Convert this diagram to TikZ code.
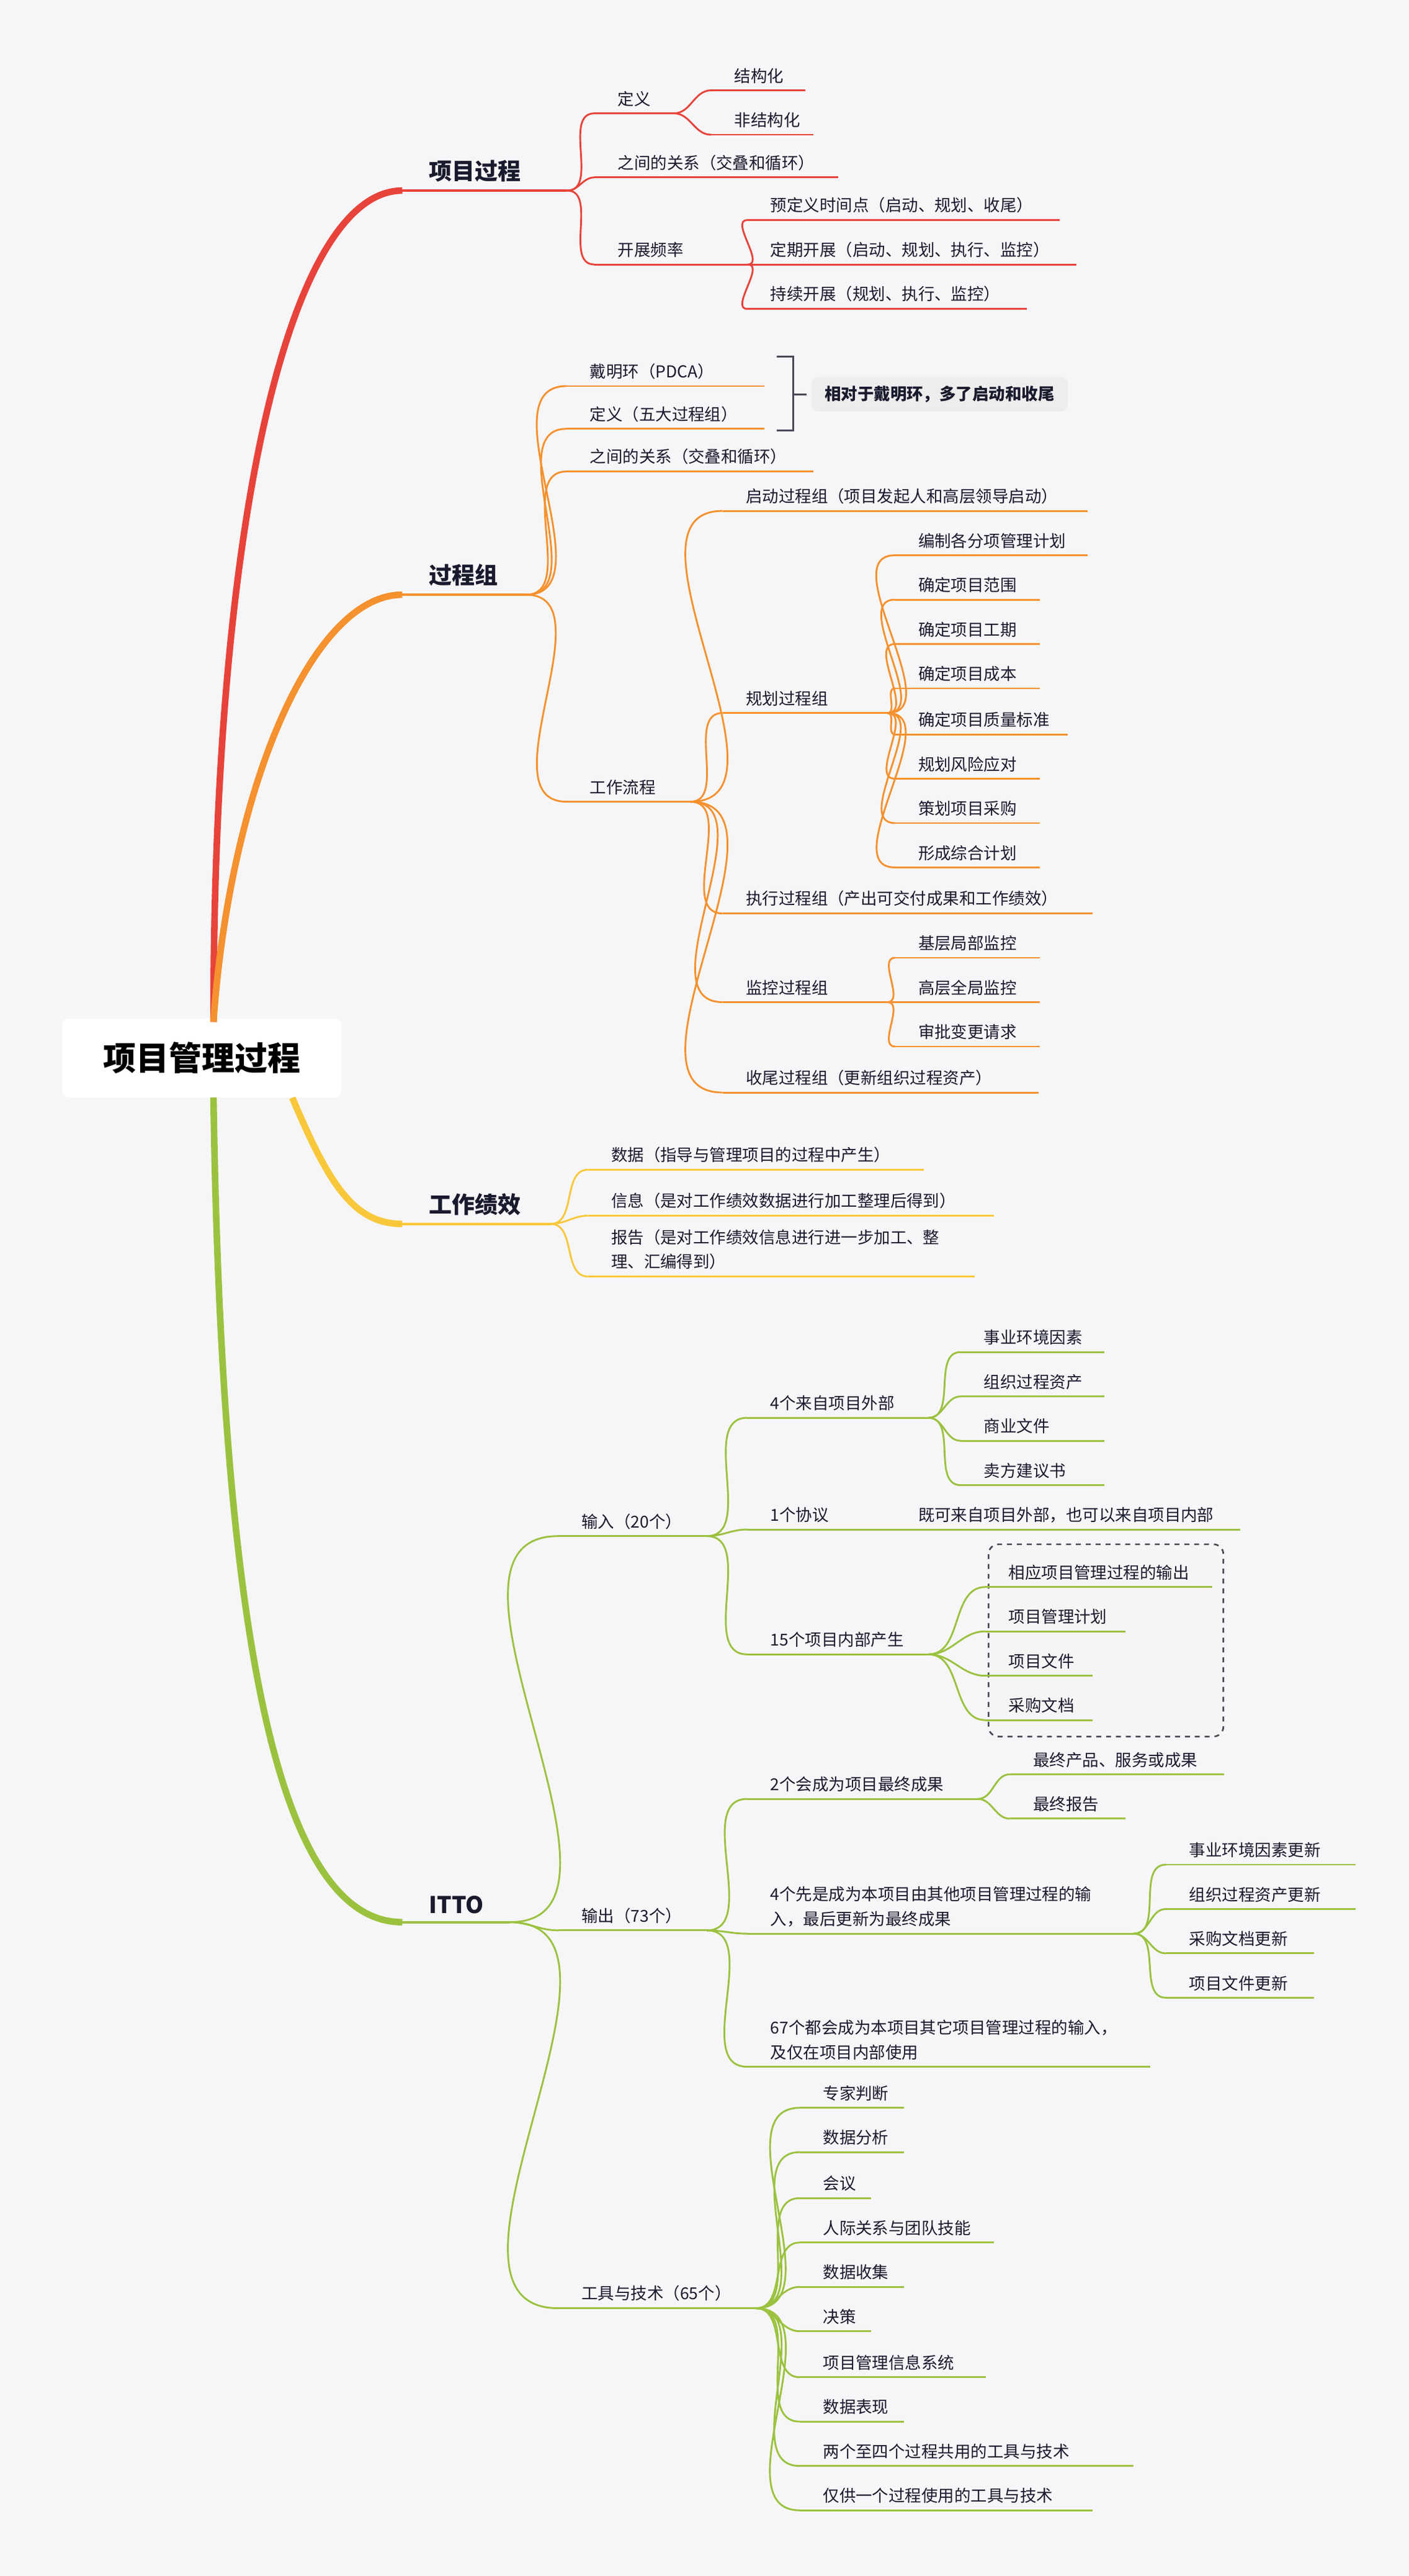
\documentclass[tikz,border=0pt]{standalone}
\usepackage{fontspec}
\setmainfont{Noto Sans CJK SC}
\definecolor{bg}{HTML}{F6F6F8}
\definecolor{cr}{HTML}{E8433A}
\definecolor{co}{HTML}{F5912E}
\definecolor{cy}{HTML}{F8C83A}
\definecolor{cg}{HTML}{9BC23F}
\definecolor{tx}{HTML}{1A1A2E}
\tikzset{
 lf/.style={anchor=south west,inner xsep=14pt,inner ysep=4pt,align=left,text=tx,font=\fontsize{10}{15}\selectfont},
 mlbl/.style={anchor=south west,inner xsep=16pt,inner ysep=5pt,text=tx,font=\fontsize{14}{17}\selectfont\bfseries},
 ul/.style={line width=1.1pt,draw=#1},
 cn/.style={line width=1.1pt,draw=#1},
 mb/.style={line width=4pt,draw=#1}
}
\newcommand\lf[6]{\pgfmathsetmacro\tw{#4-#2-28}\node[lf,text width=\tw pt] (#1) at (#2,#3) {#5};\draw[ul=#6] (#1.south west)--(#1.south east);}
\newcommand\ml[6]{\pgfmathsetmacro\tw{#4-#2-32}\node[mlbl,text width=\tw pt] (#1) at (#2,#3) {#5};\draw[ul=#6,line width=1.5pt] (#1.south west)--(#1.south east);}
\newcommand\cn[3]{\draw[cn=#3] (#1.south east) to[out=0,in=180] (#2.south west);}
\begin{document}
\begin{tikzpicture}[x=1pt,y=-1pt]
\fill[bg] (0,0) rectangle (858,1568);
\useasboundingbox (0,0) rectangle (858,1568);
% root
\node[fill=white,rounded corners=4pt,minimum width=170pt,minimum height=48pt,text=black,font=\fontsize{20}{24}\selectfont\bfseries] (root) at (123,644) {项目管理过程};
\coordinate (ru) at (130,622);
\coordinate (rd) at (130,668);
% main labels
\ml{m1}{245}{116}{345}{项目过程}{cr}
\ml{m2}{245}{362}{320}{过程组}{co}
\ml{m3}{245}{745}{335}{工作绩效}{cy}
\ml{m4}{245}{1170}{310}{ITTO}{cg}
\draw[mb=cr] (ru) .. controls (130,300) and (180,116) .. (m1.south west);
\draw[mb=co] (ru) .. controls (140,480) and (190,362) .. (m2.south west);
\draw[mb=cy] (root.south) ++(55,0) coordinate (ry) .. controls (200,720) and (215,745) .. (m3.south west);
\draw[mb=cg] (rd) .. controls (135,1000) and (170,1170) .. (m4.south west);
% red
\lf{a1}{362}{69}{410}{定义}{cr}
\lf{a2}{362}{108}{510}{之间的关系（交叠和循环）}{cr}
\lf{a3}{362}{161}{455}{开展频率}{cr}
\lf{a11}{433}{55}{490}{结构化}{cr}
\lf{a12}{433}{82}{495}{非结构化}{cr}
\lf{a31}{455}{134}{645}{预定义时间点（启动、规划、收尾）}{cr}
\lf{a32}{455}{161}{655}{定期开展（启动、规划、执行、监控）}{cr}
\lf{a33}{455}{188}{625}{持续开展（规划、执行、监控）}{cr}
\foreach \c in {a1,a2,a3}{\cn{m1}{\c}{cr}}
\foreach \c in {a11,a12}{\cn{a1}{\c}{cr}}
\foreach \c in {a31,a32,a33}{\cn{a3}{\c}{cr}}
% orange
\lf{b1}{345}{235}{465}{戴明环（PDCA）}{co}
\lf{b2}{345}{261}{465}{定义（五大过程组）}{co}
\lf{b3}{345}{287}{495}{之间的关系（交叠和循环）}{co}
\lf{b4}{345}{488}{420}{工作流程}{co}
\foreach \c in {b1,b2,b3,b4}{\cn{m2}{\c}{co}}
\lf{b41}{440}{311}{662}{启动过程组（项目发起人和高层领导启动）}{co}
\lf{b42}{440}{434}{540}{规划过程组}{co}
\lf{b43}{440}{556}{665}{执行过程组（产出可交付成果和工作绩效）}{co}
\lf{b44}{440}{610}{540}{监控过程组}{co}
\lf{b45}{440}{665}{632}{收尾过程组（更新组织过程资产）}{co}
\foreach \c in {b41,b42,b43,b44,b45}{\cn{b4}{\c}{co}}
\foreach \y/\e/\t [count=\i] in {338/662/编制各分项管理计划,365/633/确定项目范围,392/633/确定项目工期,419/633/确定项目成本,447/650/确定项目质量标准,474/633/规划风险应对,501/633/策划项目采购,528/633/形成综合计划}{
 \lf{p\i}{545}{\y}{\e}{\t}{co}\cn{b42}{p\i}{co}}
\foreach \y/\t [count=\i] in {583/基层局部监控,610/高层全局监控,637/审批变更请求}{
 \lf{q\i}{545}{\y}{633}{\t}{co}\cn{b44}{q\i}{co}}
% bracket + summary
\draw[line width=1pt,draw=tx!80] (473,217) -- (483,217) -- (483,262) -- (473,262);
\coordinate (brm) at (491,240);
\draw[line width=1pt,draw=tx!80] (483,240) -- (brm);
\node[fill=black!7,rounded corners=4pt,anchor=west,text=tx,inner xsep=8pt,minimum height=21pt,font=\fontsize{10}{12}\selectfont\bfseries] (sum) at (494,240) {相对于戴明环，多了启动和收尾};
% yellow
\lf{c1}{358}{712}{562}{数据（指导与管理项目的过程中产生）}{cy}
\lf{c2}{358}{740}{605}{信息（是对工作绩效数据进行加工整理后得到）}{cy}
\lf{c3}{358}{777}{593}{报告（是对工作绩效信息进行进一步加工、整\\理、汇编得到）}{cy}
\foreach \c in {c1,c2,c3}{\cn{m3}{\c}{cy}}
% green
\fill[black!4] (602,940) rectangle (745,1057);
\draw[dashed,line width=1pt,rounded corners=6pt,draw=tx!80] (602,940) rectangle (745,1057);
\lf{d1}{340}{935}{430}{输入（20个）}{cg}
\lf{d2}{340}{1175}{430}{输出（73个）}{cg}
\lf{d3}{340}{1405}{460}{工具与技术（65个）}{cg}
\foreach \c in {d1,d2,d3}{\cn{m4}{\c}{cg}}
\lf{d11}{455}{863}{565}{4个来自项目外部}{cg}
\lf{d12}{455}{931}{545}{1个协议}{cg}
\lf{d13}{455}{1007}{565}{15个项目内部产生}{cg}
\foreach \c in {d11,d12,d13}{\cn{d1}{\c}{cg}}
\foreach \y/\t [count=\i] in {823/事业环境因素,850/组织过程资产,877/商业文件,904/卖方建议书}{
 \lf{e\i}{585}{\y}{672}{\t}{cg}\cn{d11}{e\i}{cg}}
\lf{d121}{545}{931}{755}{既可来自项目外部，也可以来自项目内部}{cg}
\cn{d12}{d121}{cg}
\foreach \y/\e/\t [count=\i] in {966/738/相应项目管理过程的输出,993/685/项目管理计划,1020/665/项目文件,1047/665/采购文档}{
 \lf{f\i}{600}{\y}{\e}{\t}{cg}\cn{d13}{f\i}{cg}}
\lf{d21}{455}{1095}{595}{2个会成为项目最终成果}{cg}
\lf{d22}{455}{1177}{690}{4个先是成为本项目由其他项目管理过程的输\\入，最后更新为最终成果}{cg}
\lf{d23}{455}{1258}{700}{67个都会成为本项目其它项目管理过程的输入，\\及仅在项目内部使用}{cg}
\foreach \c in {d21,d22,d23}{\cn{d2}{\c}{cg}}
\lf{g1}{615}{1080}{745}{最终产品、服务或成果}{cg}
\lf{g2}{615}{1107}{685}{最终报告}{cg}
\cn{d21}{g1}{cg}\cn{d21}{g2}{cg}
\foreach \y/\e/\t [count=\i] in {1135/825/事业环境因素更新,1162/825/组织过程资产更新,1189/800/采购文档更新,1216/800/项目文件更新}{
 \lf{h\i}{710}{\y}{\e}{\t}{cg}\cn{d22}{h\i}{cg}}
\foreach \y/\e/\t [count=\i] in {1283/550/专家判断,1310/550/数据分析,1338/530/会议,1365/605/人际关系与团队技能,1392/550/数据收集,1419/530/决策,1447/600/项目管理信息系统,1474/550/数据表现,1501/690/两个至四个过程共用的工具与技术,1528/665/仅供一个过程使用的工具与技术}{
 \lf{k\i}{487}{\y}{\e}{\t}{cg}\cn{d3}{k\i}{cg}}
\end{tikzpicture}
\end{document}
